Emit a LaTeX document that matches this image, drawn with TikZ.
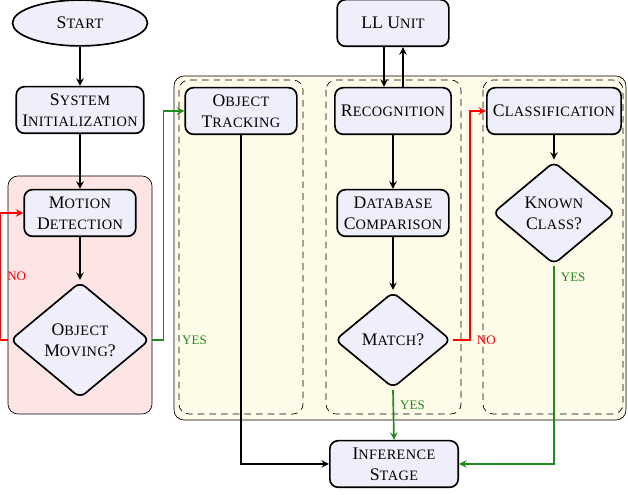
\documentclass[tikz,border=0pt,11pt]{standalone}
\usepackage{fontspec}
\setmainfont{Liberation Serif}
\usepackage{xcolor}
\usepackage{tikz}
\usetikzlibrary{shapes,arrows,positioning,calc}

\definecolor{boxfill}{RGB}{239,239,251}
\definecolor{pinkzone}{RGB}{253,229,229}
\definecolor{yellowzone}{RGB}{254,251,232}
\definecolor{yesgreen}{RGB}{30,140,30}
% small capitals made by hand
\newcommand{\sct}[2]{#1{\fontsize{8.6}{10}\selectfont\addfontfeatures{LetterSpace=3}\MakeUppercase{#2}}}

\begin{document}
\begin{tikzpicture}[x=0.6pt, y=-0.6pt,
  block/.style={draw, line width=1pt, rounded corners=5pt, fill=boxfill, minimum width=67pt, minimum height=28pt, align=center, font=\fontsize{10.6}{12.6}\selectfont},
  terminal/.style={draw, ellipse, line width=1pt, fill=boxfill, minimum width=81pt, minimum height=27.5pt, font=\fontsize{10.6}{12.6}\selectfont},
  decision/.style={draw, diamond, line width=1pt, rounded corners=4pt, fill=boxfill, align=center, inner sep=0pt, outer sep=1pt, font=\fontsize{10.6}{12.6}\selectfont},
  zone/.style={draw, rounded corners=6pt},
  lane/.style={draw, dash pattern=on 4pt off 3pt, rounded corners=6pt},
  flow/.style={->, >=stealth, line width=1pt},
  yesflow/.style={flow, yesgreen},
  noflow/.style={flow, red},
  lbl/.style={font=\fontsize{7.8}{9}\selectfont}
]
\useasboundingbox (0,0) rectangle (628,495);

% background zones
\draw[zone, fill=pinkzone] (8,176) rectangle (152,414);
\draw[zone, fill=yellowzone] (174,76) rectangle (626,420);
\draw[lane] (179,80) rectangle (303,414);
\draw[lane] (326,80) rectangle (461,414);
\draw[lane] (483,80) rectangle (623,414);

% nodes
\node[terminal] (start) at (80,23) {\sct{S}{tart}};
\node[block] (sysinit) at (80,110) {\sct{S}{ystem}\\\sct{I}{nitialization}};
\node[block] (motion) at (80,213) {\sct{M}{otion}\\\sct{D}{etection}};
\node[decision, minimum width=84pt, minimum height=70pt] (moving) at (80,340) {\sct{O}{bject}\\\sct{M}{oving}?};
\node[block] (tracking) at (241,111) {\sct{O}{bject}\\\sct{T}{racking}};
\node[block] (llunit) at (393,23) {LL \sct{U}{nit}};
\node[block] (recog) at (393,111) {\sct{R}{ecognition}};
\node[block] (dbcomp) at (393,213) {\sct{D}{atabase}\\\sct{C}{omparison}};
\node[decision, minimum width=70pt, minimum height=58pt] (match) at (393,340) {\sct{M}{atch}?};
\node[block] (classif) at (554,111) {\sct{C}{lassification}};
\node[decision, minimum width=74pt, minimum height=62pt] (known) at (554,213) {\sct{K}{nown}\\\sct{C}{lass}?};
\node[block, minimum width=77pt] (infer) at (394,464) {\sct{I}{nference}\\\sct{S}{tage}};

% connectors
\draw[flow] (start) -- (sysinit);
\draw[flow] (sysinit) -- (motion);
\draw[flow] (motion) -- (moving);
\draw[noflow] (moving.west) -- ++(-8,0) |- node[lbl, red, right, pos=0.25] {NO} (motion.west);
\draw[yesflow] (moving.east) -- ++(12,0) node[lbl, right, xshift=7pt] {YES} |- (tracking.west);
\draw[flow] ([xshift=-5.4pt]llunit.south) -- ([xshift=-5.4pt]recog.north);
\draw[flow] ([xshift=6pt]recog.north) -- ([xshift=6pt]llunit.south);
\draw[flow] (recog) -- (dbcomp);
\draw[flow] (dbcomp) -- (match);
\draw[noflow] (match.east) -- ++(17,0) node[lbl, right] {NO} |- (classif.west);
\draw[flow] (classif) -- (known);
\draw[yesflow] (known.south) |- node[lbl, below right, pos=0] {YES} (infer.east);
\draw[yesflow] (match.south) -- node[lbl, right, pos=0.3] {YES} (infer.north);
\draw[flow] (tracking.south) |- (infer.west);
\end{tikzpicture}
\end{document}
